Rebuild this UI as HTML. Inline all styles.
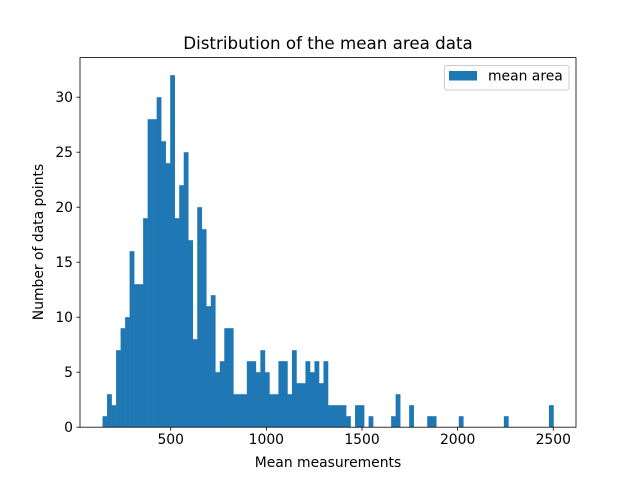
<!DOCTYPE html>
<html><head><meta charset="utf-8"><style>
body{margin:0;background:#fff;}
svg{display:block;font-family:"DejaVu Sans","Liberation Sans",sans-serif;}
</style></head><body>
<svg id="chart" width="640" height="480" viewBox="0 0 640 480">
<rect width="640" height="480" fill="#fff"/>
<text x="328" y="49" font-size="16.7" text-anchor="middle">Distribution of the mean area data</text>
<g id="bars"></g>
<g id="axes"></g>
<text x="328" y="467" font-size="13.9" text-anchor="middle">Mean measurements</text>
<text transform="translate(43,242) rotate(-90)" font-size="13.9" text-anchor="middle">Number of data points</text>
<g>
<rect x="444.5" y="65.5" width="124.5" height="24.5" rx="2" fill="#fff" stroke="#ccc"/>
<rect x="449" y="71" width="28" height="9.5" fill="#1f77b4"/>
<text x="488" y="80.5" font-size="13.9">mean area</text>
</g>
</svg>
<script>
const binStart = 143.5;
const binEnd = 2501;
const counts = [1,3,2,7,9,10,16,13,13,19,28,28,30,26,24,32,19,22,25,17,8,20,18,11,12,5,6,9,9,3,3,3,6,6,5,7,5,3,3,6,6,3,7,4,4,6,5,6,4,6,2,2,2,2,1,0,2,2,0,1,0,0,0,0,1,3,0,0,2,0,0,0,1,1,0,0,0,0,0,1,0,0,0,0,0,0,0,0,0,1,0,0,0,0,0,0,0,0,0,2];
const xTicks = [500,1000,1500,2000,2500];
const yTicks = [0,5,10,15,20,25,30];

const L=80,R=576,T=57.6,B=427.2;
const span=binEnd-binStart;
const xmin=binStart-0.05*span, xmax=binEnd+0.05*span;
const ymax=Math.max(...counts)*1.05;
const sx=v=>L+(v-xmin)/(xmax-xmin)*(R-L);
const sy=v=>B-v/ymax*(B-T);
const NS="http://www.w3.org/2000/svg";
const bars=document.getElementById('bars');
const w=span/counts.length;
counts.forEach((c,i)=>{
  if(c<=0) return;
  const r=document.createElementNS(NS,'rect');
  const x0=sx(binStart+i*w), x1=sx(binStart+(i+1)*w);
  r.setAttribute('x',x0);r.setAttribute('width',x1-x0+0.3);
  r.setAttribute('y',sy(c));r.setAttribute('height',B-sy(c));
  r.setAttribute('fill','#1f77b4');
  
  
  bars.appendChild(r);
});
const ax=document.getElementById('axes');
function add(tag,attrs,txt){const e=document.createElementNS(NS,tag);for(const k in attrs)e.setAttribute(k,attrs[k]);if(txt!==undefined)e.textContent=txt;ax.appendChild(e);return e;}
const frame=add('rect',{x:L,y:T,width:R-L,height:B-T,fill:'none',stroke:'#000','stroke-width':0.8});


xTicks.forEach(t=>{
  const x=sx(t);
  const tk=add('line',{x1:x,x2:x,y1:B,y2:B+3.5,stroke:'#000','stroke-width':0.8});
  
  
  const lb=add('text',{x:x,y:B+17,'font-size':13.9,'text-anchor':'middle'},String(t));
  
  
});
yTicks.forEach(t=>{
  const y=sy(t);
  const tk=add('line',{x1:L-3.5,x2:L,y1:y,y2:y,stroke:'#000','stroke-width':0.8});
  
  
  const lb=add('text',{x:L-7,y:y+5,'font-size':13.9,'text-anchor':'end'},String(t));
  
  
});
</script>
</body></html>
